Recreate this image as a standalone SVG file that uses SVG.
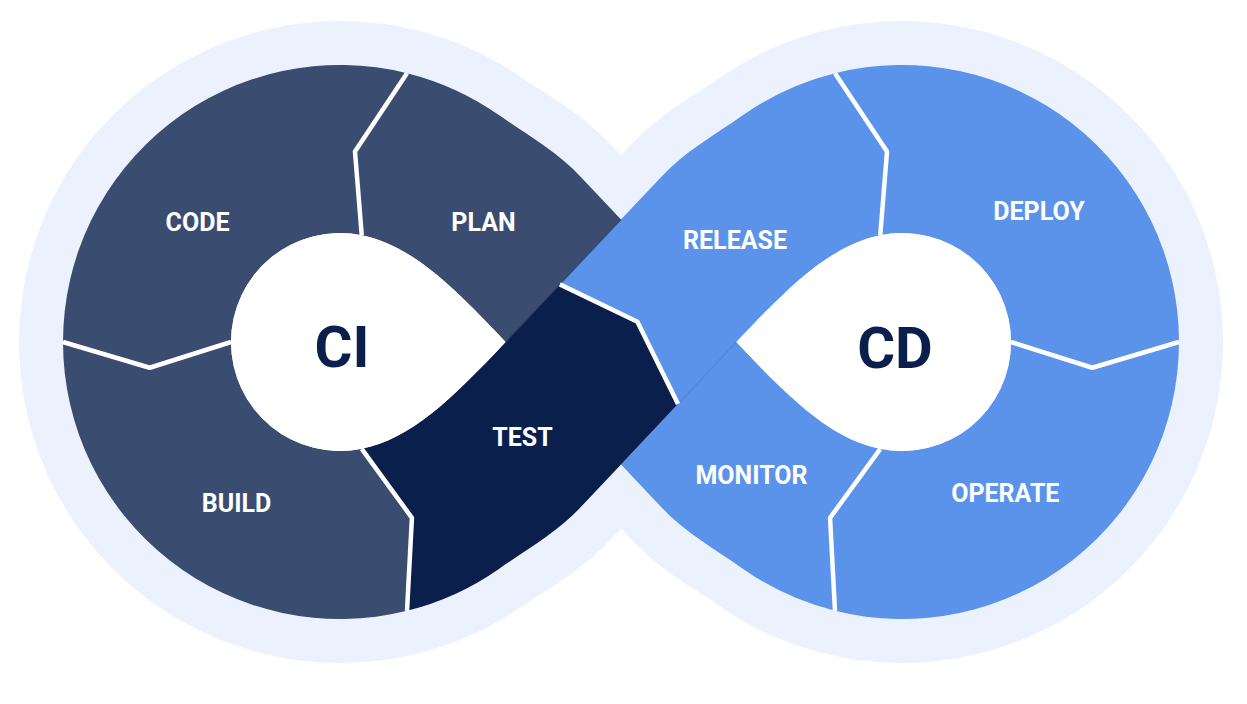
<svg xmlns="http://www.w3.org/2000/svg" width="1247" height="704" viewBox="0 0 1247 704">
  <style>
    .ci { fill: #3A4D71; }
    .test { fill: #0A1F4B; }
    .cd { fill: #5B93EB; }
    .hole { fill: #FFFFFF; }
    .sep { fill: none; stroke: #FFFFFF; stroke-width: 4.5; stroke-linejoin: round; stroke-linecap: butt; }
    .lbl { font-family: Roboto, "Liberation Sans", sans-serif; font-weight: 700; font-size: 25px; fill: #FFFFFF; text-anchor: middle; }
    .big { font-family: Roboto, "Liberation Sans", sans-serif; font-weight: 700; font-size: 58px; fill: #0A1F4B; text-anchor: middle; }
  </style>
  <rect width="1247" height="704" fill="#FFFFFF"/>

  <!-- light background band -->
  <g id="band">
    <path d="M 621,342 L 722.3,234.5 C 744.25,211.2 765.1,202.3 791.3,183.9 A 193 193 0 1 1 791.3,500.1 C 765.1,481.7 744.25,472.8 722.3,449.5 L 519.7,234.5 C 497.75,211.2 476.9,202.3 450.7,183.9 A 193 193 0 1 0 450.7,500.1 C 476.9,481.7 497.75,472.8 519.7,449.5 Z" fill="none" stroke="#EBF2FD" stroke-width="256" stroke-linejoin="round"/>
  </g>

  <!-- nodes under the crossing -->
  <g id="plan">
    <path class="ci" d="M 361.73,235.19 L 354.99,151.59 L 407.01,73.23 A 277 277 0 0 1 498.88,115.09 C 527.55,135.17 556.83,151.43 580.83,176.9 L 621,219.5 L 505.6,342 C 450.7,283.8 410.7,245.2 361.73,235.19 Z"/>
    <text class="lbl" x="483.5" y="231">PLAN</text>
  </g>
  <g id="monitor">
    <path class="cd" d="M 880.27,448.81 L 830.06,517.85 L 834.99,610.77 A 277 277 0 0 1 743.12,568.91 C 714.45,548.83 685.17,532.57 661.17,507.1 L 621,464.5 L 736.4,342 C 791.3,400.2 831.3,438.8 880.27,448.81 Z"/>
    <text class="lbl" x="751.5" y="484">MONITOR</text>
  </g>
  <g id="code">
    <path class="ci" d="M 361.73,235.19 A 109 109 0 0 0 231,342 L 149.73,367.73 L 63,342 A 277 277 0 0 1 407.01,73.23 L 354.99,151.59 Z"/>
    <text class="lbl" x="197.5" y="231">CODE</text>
  </g>
  <g id="build">
    <path class="ci" d="M 231,342 A 109 109 0 0 0 361.73,448.81 L 411.94,517.85 L 407.01,610.77 A 277 277 0 0 1 63,342 L 149.73,367.73 Z"/>
    <text class="lbl" x="236.5" y="512">BUILD</text>
  </g>
  <g id="deploy">
    <path class="cd" d="M 880.27,235.19 L 887.01,151.59 L 834.99,73.23 A 277 277 0 0 1 1179,342 L 1092.27,367.73 L 1011,342 A 109 109 0 0 0 880.27,235.19 Z"/>
    <text class="lbl" x="1039" y="220">DEPLOY</text>
  </g>
  <g id="operate">
    <path class="cd" d="M 1011,342 L 1092.27,367.73 L 1179,342 A 277 277 0 0 1 834.99,610.77 L 830.06,517.85 L 880.27,448.81 A 109 109 0 0 0 1011,342 Z"/>
    <text class="lbl" x="1005.3" y="502">OPERATE</text>
  </g>
  <!-- nodes over the crossing -->
  <g id="test">
    <path class="test" d="M 361.73,448.81 C 410.7,438.8 450.7,400.2 505.6,342 L 559.86,284.39 L 637.4,321.7 L 678,404 L 621,464.5 L 580.83,507.1 C 556.83,532.57 527.55,548.83 498.88,568.91 A 277 277 0 0 1 407.01,610.77 L 411.94,517.85 Z"/>
    <text class="lbl" x="522.5" y="446">TEST</text>
  </g>
  <g id="release">
    <path class="cd" d="M 559.86,284.39 L 621,219.5 L 661.17,176.9 C 685.17,151.43 714.45,135.17 743.12,115.09 A 277 277 0 0 1 834.99,73.23 L 887.01,151.59 L 880.27,235.19 C 831.3,245.2 791.3,283.8 736.4,342 L 678,404 L 637.4,321.7 Z"/>
    <text class="lbl" x="735" y="249">RELEASE</text>
  </g>

  <!-- connectors: separators and overlap edges -->
  <g id="connectors">
    <line x1="505.6" y1="342" x2="621" y2="219.5" stroke="#24365A" stroke-width="1.2" opacity="0.7"/>
    <line x1="678" y1="404" x2="736.4" y2="342" stroke="#4A80D8" stroke-width="1.2" opacity="0.8"/>
    <polyline class="sep" points="361.73,235.19 354.99,151.59 407.01,73.23"/>
    <polyline class="sep" points="231,342 149.73,367.73 63,342"/>
    <polyline class="sep" points="361.73,448.81 411.94,517.85 407.01,610.77"/>
    <polyline class="sep" points="559.86,284.39 637.4,321.7 678,404"/>
    <polyline class="sep" points="880.27,235.19 887.01,151.59 834.99,73.23"/>
    <polyline class="sep" points="1011,342 1092.27,367.73 1179,342"/>
    <polyline class="sep" points="880.27,448.81 830.06,517.85 834.99,610.77"/>
  </g>

  <!-- inner hubs -->
  <g id="ci">
    <path class="hole" d="M 505.6,342 C 450.7,283.8 410.7,245.2 361.73,235.19 A 109 109 0 1 0 361.73,448.81 C 410.7,438.8 450.7,400.2 505.6,342 Z"/>
    <text class="big" x="342" y="367">CI</text>
  </g>
  <g id="cd">
    <path class="hole" d="M 736.4,342 C 791.3,283.8 831.3,245.2 880.27,235.19 A 109 109 0 1 1 880.27,448.81 C 831.3,438.8 791.3,400.2 736.4,342 Z"/>
    <text class="big" x="895" y="368">CD</text>
  </g>
</svg>
